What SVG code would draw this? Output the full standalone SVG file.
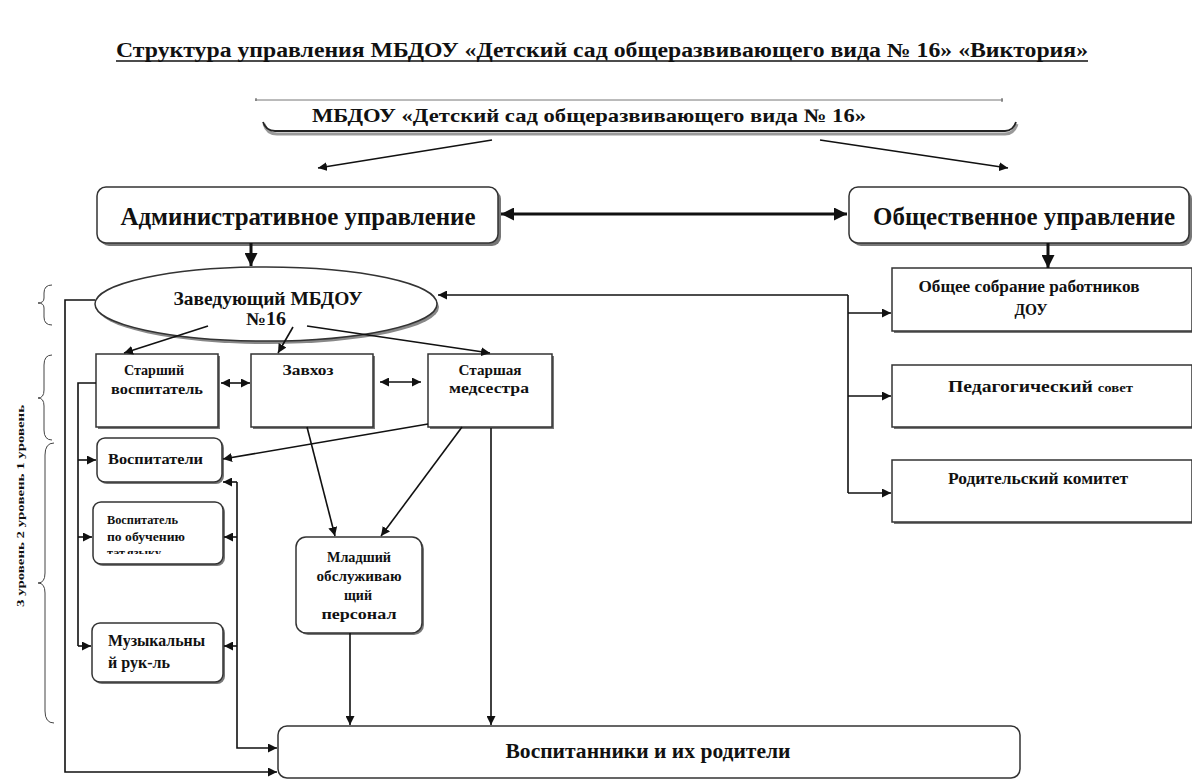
<svg xmlns="http://www.w3.org/2000/svg" width="1192" height="780" viewBox="0 0 1192 780" font-family="'Liberation Serif', 'DejaVu Serif', serif">
<style>
text{font-family:'Liberation Serif','DejaVu Serif',serif;font-weight:700;fill:#111;}
.box{fill:#fff;stroke:#333;stroke-width:1.5;}
.sh{fill:#777;}
.c{fill:none;stroke:#111;stroke-width:1.6;}
.t{fill:none;stroke:#111;stroke-width:3;}
.mid{text-anchor:middle;}
</style>
<defs>
<marker id="ah" viewBox="0 0 10 10" refX="10" refY="5" markerWidth="9" markerHeight="9" markerUnits="userSpaceOnUse" orient="auto-start-reverse"><path d="M0,0 L10,5 L0,10 z" fill="#111"/></marker>
<marker id="ahb" viewBox="0 0 10 10" refX="10" refY="5" markerWidth="13" markerHeight="13" markerUnits="userSpaceOnUse" orient="auto-start-reverse"><path d="M0,0 L10,5 L0,10 z" fill="#111"/></marker>
<clipPath id="clipTat"><rect x="93" y="540" width="130" height="14"/></clipPath>
</defs>
<rect width="1192" height="780" fill="#fff"/>

<g id="title">
<text x="116" y="57" textLength="972" lengthAdjust="spacingAndGlyphs" font-size="20">Структура управления МБДОУ «Детский сад общеразвивающего вида № 16» «Виктория»</text>
<line x1="116" y1="61" x2="1088" y2="61" stroke="#111" stroke-width="1.5"/>
</g>

<g id="top-brace">
<line x1="255" y1="100" x2="1003" y2="100" stroke="#777" stroke-width="1"/>
<line x1="256" y1="98" x2="256" y2="101" stroke="#555" stroke-width="1"/>
<line x1="1002" y1="98" x2="1002" y2="102" stroke="#555" stroke-width="1"/>
<path d="M264,124 Q267,134 277,134 L1005,134 Q1014,134 1017,124" fill="none" stroke="#999" stroke-width="3"/>
<path d="M263,122 Q266,131 275,131 L1005,131 Q1013,131 1016,122" fill="none" stroke="#222" stroke-width="1.8"/>
<text x="589" y="122" class="mid" font-size="19" textLength="554" lengthAdjust="spacingAndGlyphs">МБДОУ «Детский сад общеразвивающего вида № 16»</text>
</g>

<g id="levels">
<path d="M52,285 Q44,285 44,293 L44,298 Q44,303 38,303 Q44,303 44,308 L44,317 Q44,325 52,325" fill="none" stroke="#444" stroke-width="1"/>
<path d="M52,355 Q44,355 44,365 L44,390 Q44,398 38,398 Q44,398 44,406 L44,430 Q44,440 52,440" fill="none" stroke="#444" stroke-width="1"/>
<path d="M54,443 Q45,443 45,455 L45,573 Q45,583 38,583 Q45,583 45,593 L45,711 Q45,723 54,723" fill="none" stroke="#444" stroke-width="1"/>
<text transform="translate(24,506) rotate(-90)" class="mid" font-size="11" textLength="202" lengthAdjust="spacingAndGlyphs">3 уровень  2 уровень  1 уровень</text>
</g>

<g id="admin">
<rect x="100" y="190" width="401" height="56" rx="9" class="sh"/>
<rect x="97" y="187" width="401" height="56" rx="9" class="box"/>
<text x="298" y="225" class="mid" font-size="26" textLength="355" lengthAdjust="spacingAndGlyphs">Административное  управление</text>
</g>

<g id="social">
<rect x="852" y="190" width="340" height="56" rx="9" class="sh"/>
<rect x="849" y="187" width="340" height="56" rx="9" class="box"/>
<text x="1024" y="225" class="mid" font-size="26" textLength="302" lengthAdjust="spacingAndGlyphs">Общественное управление</text>
</g>

<g id="head">
<ellipse cx="268" cy="307" rx="171" ry="37" fill="#888"/>
<ellipse cx="266" cy="304" rx="171" ry="37" class="box"/>
<text x="268" y="305" class="mid" font-size="18" textLength="189" lengthAdjust="spacingAndGlyphs">Заведующий МБДОУ</text>
<text x="266" y="325" class="mid" font-size="18" textLength="40" lengthAdjust="spacingAndGlyphs">№16</text>
</g>

<g id="senior-teacher">
<rect x="98" y="356" width="122" height="73" class="sh"/>
<rect x="96" y="354" width="122" height="73" class="box"/>
<text x="154" y="375" class="mid" font-size="15" textLength="60" lengthAdjust="spacingAndGlyphs">Старший</text>
<text x="157" y="394" class="mid" font-size="15" textLength="92" lengthAdjust="spacingAndGlyphs">воспитатель</text>
</g>

<g id="zavhoz">
<rect x="253" y="356" width="122" height="73" class="sh"/>
<rect x="251" y="354" width="122" height="73" class="box"/>
<text x="308" y="375" class="mid" font-size="15" textLength="51" lengthAdjust="spacingAndGlyphs">Завхоз</text>
</g>

<g id="nurse">
<rect x="430" y="356" width="124" height="73" class="sh"/>
<rect x="428" y="354" width="124" height="73" class="box"/>
<text x="490" y="375" class="mid" font-size="15" textLength="63" lengthAdjust="spacingAndGlyphs">Старшая</text>
<text x="489" y="393" class="mid" font-size="15" textLength="80" lengthAdjust="spacingAndGlyphs">медсестра</text>
</g>

<g id="teachers">
<rect x="99" y="440" width="125" height="44" rx="8" class="sh"/>
<rect x="97" y="438" width="125" height="44" rx="8" class="box"/>
<text x="108" y="464" font-size="15" textLength="95" lengthAdjust="spacingAndGlyphs">Воспитатели</text>
</g>

<g id="tat-teacher">
<rect x="95" y="504" width="130" height="62" rx="8" class="sh"/>
<rect x="93" y="502" width="130" height="62" rx="8" class="box"/>
<text x="107" y="524" font-size="13" textLength="71" lengthAdjust="spacingAndGlyphs">Воспитатель</text>
<text x="107" y="541" font-size="13" textLength="78" lengthAdjust="spacingAndGlyphs">по обучению</text>
<text x="107" y="557" font-size="13" textLength="54" lengthAdjust="spacingAndGlyphs" clip-path="url(#clipTat)">тат.языку</text>
</g>

<g id="music">
<rect x="94" y="625" width="131" height="59" rx="8" class="sh"/>
<rect x="92" y="623" width="131" height="59" rx="8" class="box"/>
<text x="108" y="646" font-size="16" textLength="97" lengthAdjust="spacingAndGlyphs">Музыкальны</text>
<text x="108" y="668" font-size="16" textLength="62" lengthAdjust="spacingAndGlyphs">й рук-ль</text>
</g>

<g id="junior-staff">
<rect x="298" y="539" width="126" height="96" rx="10" class="sh"/>
<rect x="296" y="537" width="126" height="96" rx="10" class="box"/>
<text x="359" y="562" class="mid" font-size="15" textLength="64" lengthAdjust="spacingAndGlyphs">Младший</text>
<text x="359" y="581" class="mid" font-size="15" textLength="85" lengthAdjust="spacingAndGlyphs">обслуживаю</text>
<text x="358" y="600" class="mid" font-size="15" textLength="28" lengthAdjust="spacingAndGlyphs">щий</text>
<text x="359" y="619" class="mid" font-size="15" textLength="75" lengthAdjust="spacingAndGlyphs">персонал</text>
</g>

<g id="pupils">
<rect x="278" y="726" width="742" height="52" rx="9" class="box"/>
<text x="648" y="758" class="mid" font-size="20" textLength="285" lengthAdjust="spacingAndGlyphs">Воспитанники и их родители</text>
</g>

<g id="general-meeting">
<rect x="894" y="270" width="300" height="63" class="sh"/>
<rect x="892" y="268" width="300" height="63" class="box"/>
<text x="1029" y="292" class="mid" font-size="16" textLength="221" lengthAdjust="spacingAndGlyphs">Общее собрание работников</text>
<text x="1031" y="315" class="mid" font-size="16" textLength="33" lengthAdjust="spacingAndGlyphs">ДОУ</text>
</g>

<g id="ped-council">
<rect x="894" y="367" width="300" height="62" class="sh"/>
<rect x="892" y="365" width="300" height="62" class="box"/>
<text x="948" y="392" font-size="16" textLength="185" lengthAdjust="spacingAndGlyphs">Педагогический <tspan font-size="12">совет</tspan></text>
</g>

<g id="parent-committee">
<rect x="894" y="462" width="300" height="62" class="sh"/>
<rect x="892" y="460" width="300" height="62" class="box"/>
<text x="1038" y="484" class="mid" font-size="16" textLength="180" lengthAdjust="spacingAndGlyphs">Родительский комитет</text>
</g>

<g id="connectors">
<path d="M492,140 L318,168" class="c" stroke-width="2" marker-end="url(#ah)"/>
<path d="M820,140 L1008,168" class="c" stroke-width="2" marker-end="url(#ah)"/>
<path d="M501,214 L847,214" class="t" marker-start="url(#ahb)" marker-end="url(#ahb)"/>
<path d="M251,243 L251,266" class="t" marker-end="url(#ahb)"/>
<path d="M1048,243 L1048,268" class="t" marker-end="url(#ahb)"/>
<path d="M848,295 L438,295" class="c" marker-end="url(#ah)"/>
<path d="M848,295 L848,493" class="c"/>
<path d="M848,313 L891,313" class="c" marker-end="url(#ah)"/>
<path d="M848,396 L891,396" class="c" marker-end="url(#ah)"/>
<path d="M848,493 L891,493" class="c" marker-end="url(#ah)"/>
<path d="M208,326 L124,353" class="c" marker-end="url(#ah)"/>
<path d="M293,327 L278,353" class="c" marker-end="url(#ah)"/>
<path d="M307,326 L490,353" class="c" marker-end="url(#ah)"/>
<path d="M221,383 L250,383" class="c" marker-start="url(#ah)" marker-end="url(#ah)"/>
<path d="M380,382 L421,382" class="c" marker-start="url(#ah)" marker-end="url(#ah)"/>
<path d="M95,300 L65,300 L65,772 L277,772" class="c" marker-end="url(#ah)"/>
<path d="M96,383 L78,383 L78,646" class="c"/>
<path d="M78,460 L96,460" class="c" marker-end="url(#ah)"/>
<path d="M78,537 L92,537" class="c" marker-end="url(#ah)"/>
<path d="M78,646 L91,646" class="c" marker-end="url(#ah)"/>
<path d="M237,482 L237,748 L277,748" class="c" marker-end="url(#ah)"/>
<path d="M237,482 L223,482" class="c" marker-end="url(#ah)"/>
<path d="M237,537 L224,537" class="c" marker-end="url(#ah)"/>
<path d="M237,646 L224,646" class="c" marker-end="url(#ah)"/>
<path d="M428,424 L223,459" class="c" marker-end="url(#ah)"/>
<path d="M462,427 L381,536" class="c" marker-end="url(#ah)"/>
<path d="M307,427 L335,536" class="c" marker-end="url(#ah)"/>
<path d="M350,633 L350,725" class="c" marker-end="url(#ah)"/>
<path d="M491,428 L491,725" class="c" marker-end="url(#ah)"/>
</g>
</svg>
